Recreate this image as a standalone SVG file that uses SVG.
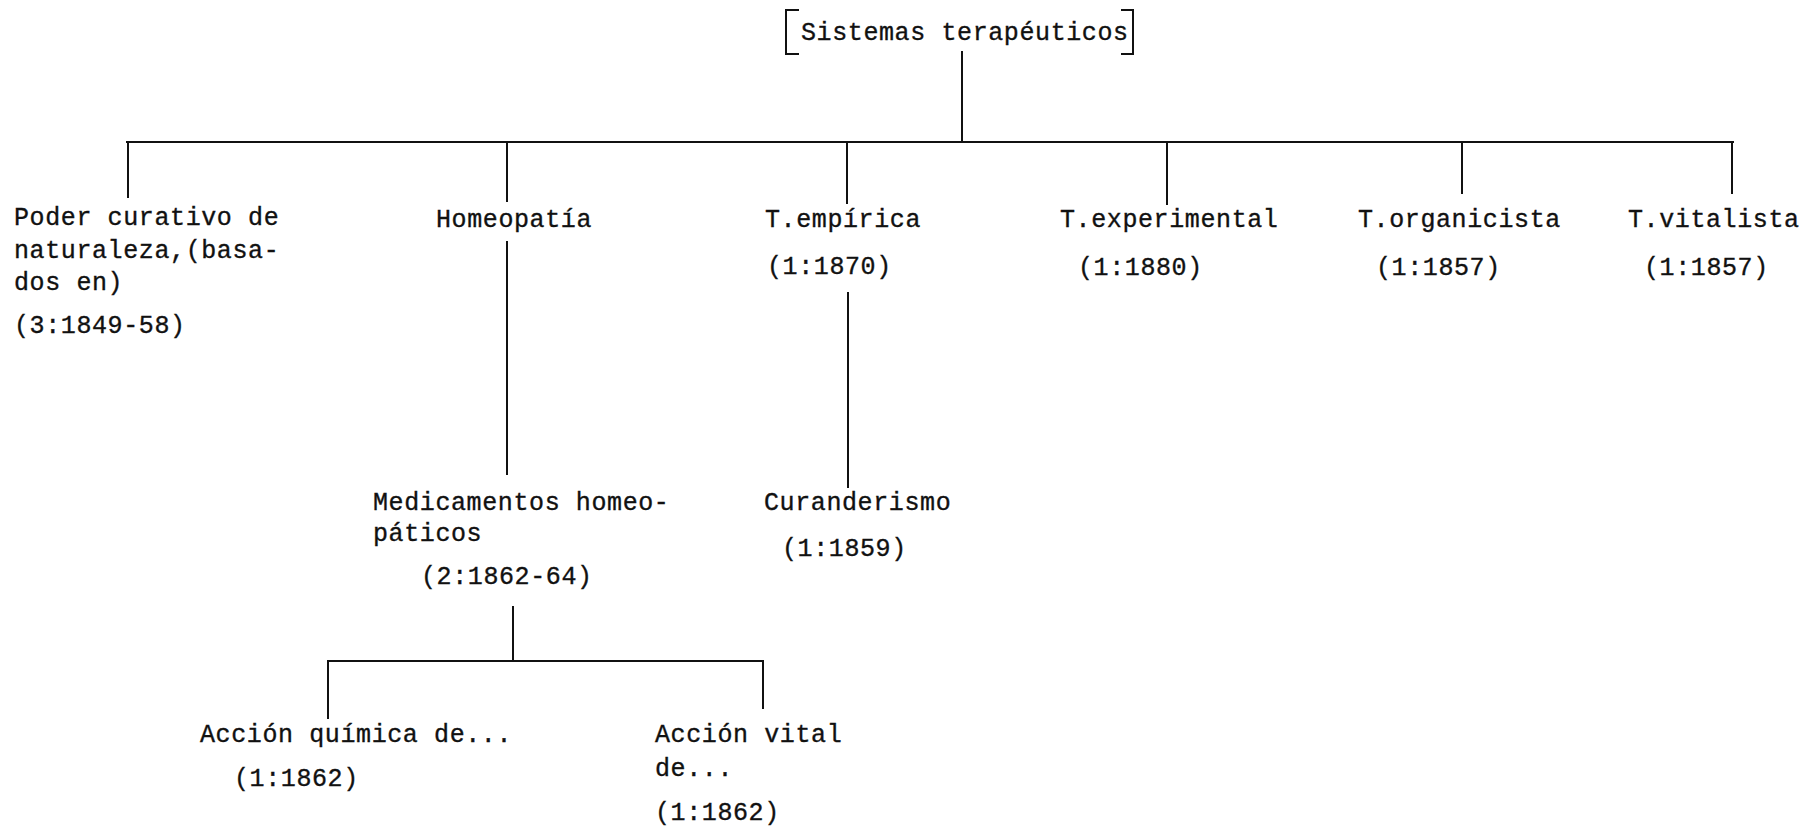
<svg xmlns="http://www.w3.org/2000/svg" width="1808" height="827" viewBox="0 0 1808 827">
  <style>
    .t { font-family: "Liberation Mono", "Courier New", monospace; font-size: 25px; letter-spacing: 0.6px; fill: #111; stroke: #111; stroke-width: 0.35px; }
    .ln { stroke: #111; stroke-width: 2; fill: none; stroke-linecap: square; }
  </style>
  <rect width="1808" height="827" fill="#fff"/>

  <!-- connectors -->
  <g id="connectors" class="ln">
    <path d="M962 52 V142"/>
    <path d="M127 142 H1733"/>
    <path d="M128 142 V197"/>
    <path d="M507 142 V201"/>
    <path d="M847 142 V203"/>
    <path d="M1167 142 V204"/>
    <path d="M1462 142 V193"/>
    <path d="M1732 142 V193"/>
    <path d="M507 242 V474"/>
    <path d="M848 293 V487"/>
    <path d="M513 607 V661"/>
    <path d="M328 661 H763"/>
    <path d="M328 661 V718"/>
    <path d="M763 661 V708"/>
  </g>

  <g id="root">
    <path class="ln" d="M798 10 H786 V54 H798"/>
    <path class="ln" d="M1122 10 H1133 V54 H1122"/>
    <text class="t" x="801" y="40">Sistemas terapéuticos</text>
  </g>

  <g id="poder">
    <text class="t" x="14" y="225">Poder curativo de</text>
    <text class="t" x="14" y="258">naturaleza,(basa-</text>
    <text class="t" x="14" y="290">dos en)</text>
    <text class="t" x="14" y="333">(3:1849-58)</text>
  </g>

  <g id="homeopatia">
    <text class="t" x="436" y="227">Homeopatía</text>
  </g>

  <g id="empirica">
    <text class="t" x="765" y="227">T.empírica</text>
    <text class="t" x="767" y="274">(1:1870)</text>
  </g>

  <g id="experimental">
    <text class="t" x="1060" y="227">T.experimental</text>
    <text class="t" x="1078" y="275">(1:1880)</text>
  </g>

  <g id="organicista">
    <text class="t" x="1358" y="227">T.organicista</text>
    <text class="t" x="1376" y="275">(1:1857)</text>
  </g>

  <g id="vitalista">
    <text class="t" x="1628" y="227">T.vitalista</text>
    <text class="t" x="1644" y="275">(1:1857)</text>
  </g>

  <g id="medicamentos">
    <text class="t" x="373" y="510">Medicamentos homeo-</text>
    <text class="t" x="373" y="541">páticos</text>
    <text class="t" x="421" y="584">(2:1862-64)</text>
  </g>

  <g id="curanderismo">
    <text class="t" x="764" y="510">Curanderismo</text>
    <text class="t" x="782" y="556">(1:1859)</text>
  </g>

  <g id="accion-quimica">
    <text class="t" x="200" y="742">Acción química de...</text>
    <text class="t" x="234" y="786">(1:1862)</text>
  </g>

  <g id="accion-vital">
    <text class="t" x="655" y="742">Acción vital</text>
    <text class="t" x="655" y="776">de...</text>
    <text class="t" x="655" y="820">(1:1862)</text>
  </g>
</svg>
